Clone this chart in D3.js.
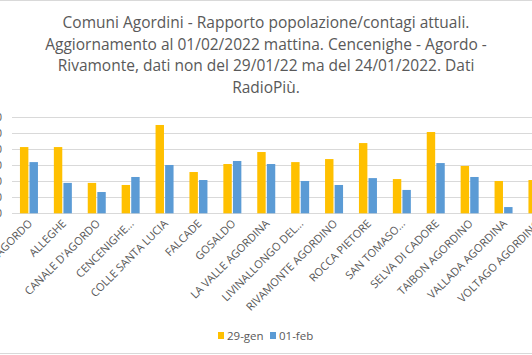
<!DOCTYPE html>
<html><head><meta charset="utf-8">
<script src="https://cdn.jsdelivr.net/npm/d3@7"></script>
<style>
html,body{margin:0;padding:0;background:#fff;overflow:hidden}
text{font-family:"Open Sans","Liberation Sans",sans-serif;fill:#595959}
</style></head>
<body>
<svg id="chart" width="532" height="355"></svg>
<script>
const categories = ["AGORDO","ALLEGHE","CANALE D'AGORDO","CENCENIGHE...","COLLE SANTA LUCIA","FALCADE","GOSALDO","LA VALLE AGORDINA","LIVINALLONGO DEL...","RIVAMONTE AGORDINO","ROCCA PIETORE","SAN TOMASO...","SELVA DI CADORE","TAIBON AGORDINO","VALLADA AGORDINA","VOLTAGO AGORDINO"];
const seriesNames = ["29-gen","01-feb"];
const gen29 = [4.14,4.14,1.90,1.77,5.52,2.58,3.08,3.83,3.20,3.39,4.39,2.14,5.08,2.96,2.02,2.08];
const feb01 = [3.20,1.90,1.33,2.27,3.02,2.08,3.27,3.08,2.02,1.77,2.20,1.46,3.14,2.27,0.39,1.60];
const yTicks = [0,1,2,3,4,5,6];
const titleLines = ["Comuni Agordini - Rapporto popolazione/contagi attuali.","Aggiornamento al 01/02/2022 mattina. Cencenighe - Agordo -","Rivamonte, dati non del 29/01/22 ma del 24/01/2022. Dati","RadioPiù."];
const colors = ["#FFC000","#5B9BD5"];

const svg = d3.select("#chart");
// frame lines
svg.append("line").attr("x1",0).attr("x2",532).attr("y1",0.5).attr("y2",0.5).attr("stroke","#d9d9d9");
svg.append("line").attr("x1",0).attr("x2",532).attr("y1",353.5).attr("y2",353.5).attr("stroke","#d9d9d9");

// title
svg.append("g").selectAll("text").data(titleLines).join("text")
  .attr("x",266).attr("y",(d,i)=>28+i*21.7)
  .attr("text-anchor","middle").style("font-size","15.5px").text(d=>d);

const x0 = d3.scaleBand().domain(categories).range([12, 12+16*33.9]).padding(0);
const y = d3.scaleLinear().domain([0,6]).range([213.3,117.3]);

// gridlines
svg.append("g").selectAll("line").data(yTicks).join("line")
  .attr("x1",12).attr("x2",532)
  .attr("y1",d=>Math.round(y(d))+0.5).attr("y2",d=>Math.round(y(d))+0.5)
  .attr("stroke","#d9d9d9");
// y tick labels (cropped off the left edge)
svg.append("g").selectAll("text").data(yTicks).join("text")
  .attr("x",2).attr("y",d=>y(d)+4).attr("text-anchor","end")
  .style("font-size","11px").text(d=>d+",0");

const x1 = d3.scaleBand().domain(seriesNames).range([-9,9]).paddingInner(0.12);
const data = categories.map((c,i)=>({c, vals:[gen29[i],feb01[i]]}));
const g = svg.append("g").selectAll("g").data(data).join("g")
  .attr("transform",d=>`translate(${x0(d.c)+x0.bandwidth()/2},0)`);
g.selectAll("rect").data(d=>d.vals.map((v,j)=>({v,s:seriesNames[j],j}))).join("rect")
  .attr("x",d=>x1(d.s)).attr("width",x1.bandwidth())
  .attr("y",d=>y(d.v)).attr("height",d=>y(0)-y(d.v))
  .attr("fill",d=>colors[d.j]);

// x labels
svg.append("g").selectAll("text").data(categories).join("text")
  .attr("transform",d=>`translate(${x0(d)+x0.bandwidth()/2+4},${y(0)+11}) rotate(-45)`)
  .attr("text-anchor","end").style("font-size","11px").text(d=>d);

// legend
const leg = svg.append("g");
const legItems = [{n:seriesNames[0],c:colors[0],x:218},{n:seriesNames[1],c:colors[1],x:270}];
leg.selectAll("rect").data(legItems).join("rect")
  .attr("x",d=>d.x).attr("y",332).attr("width",6).attr("height",7).attr("fill",d=>d.c);
leg.selectAll("text").data(legItems).join("text")
  .attr("x",d=>d.x+9).attr("y",339.5).style("font-size","11.5px").text(d=>d.n);
</script>
</body></html>
